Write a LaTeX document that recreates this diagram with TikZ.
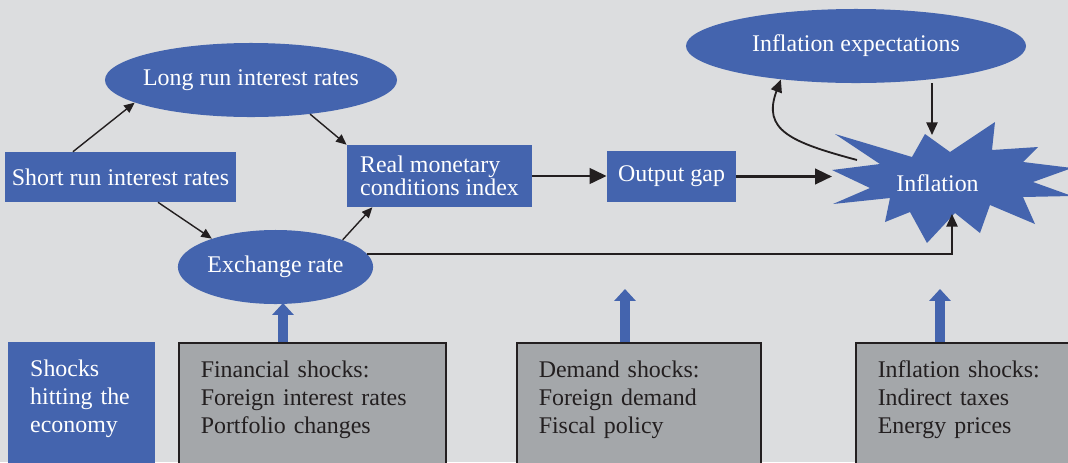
\documentclass[tikz,border=0pt]{standalone}
\usepackage{fontspec}
\setmainfont{Liberation Serif}
\usetikzlibrary{shapes.geometric,arrows.meta}
\definecolor{boxblue}{HTML}{4464AE}
\definecolor{bggrey}{HTML}{DCDDDF}
\definecolor{shockgrey}{HTML}{A4A7AA}
\definecolor{inkdark}{HTML}{231F20}
\tikzset{
  bluebox/.style={rectangle, fill=boxblue, text=white, inner sep=0pt},
  blueoval/.style={ellipse, fill=boxblue, text=white, inner sep=0pt},
  shockbox/.style={rectangle, anchor=north west, align=left, inner xsep=15.6pt, inner ysep=12.6pt, text depth=4cm, text=inkdark},
  thinarrow/.style={-{Triangle[length=7.5pt,width=6.5pt]}, line width=1pt, draw=inkdark},
  midarrow/.style={-{Triangle[length=9pt,width=8pt]}, line width=1.3pt, draw=inkdark},
  thickarrow/.style={-{Triangle[length=12pt,width=11pt]}, line width=1.8pt, draw=inkdark},
  fatarrow/.style={-{Triangle[length=8.5pt,width=15pt]}, line width=7pt, draw=boxblue}
}

\begin{document}
\begin{tikzpicture}[x=0.025cm, y=-0.025cm, every node/.style={font=\fontsize{17}{19.9}\selectfont}]
	\useasboundingbox (0,0) rectangle (1068,462);
	\fill[bggrey] (0,0) rectangle (1068,462);
	\clip (0,0) rectangle (1068,462);
	
	% 传导链上的各个节点
	\node[bluebox, minimum width=5.78cm, minimum height=1.25cm] (short) at (120.5,177) {Short run interest rates};
	\node[blueoval, inner xsep=-6pt, minimum width=7.3cm, minimum height=1.85cm] (longrun) at (251,80) {Long run interest rates};
	\node[blueoval, minimum width=4.88cm, minimum height=1.85cm] (exch) at (275.5,267) {Exchange rate};
	\node[bluebox, minimum width=4.63cm, minimum height=1.55cm, align=left, font=\fontsize{17}{16.4}\selectfont] (rmci) at (439.5,176) {Real monetary\\conditions index};
	\node[bluebox, minimum width=3.23cm, minimum height=1.28cm] (outgap) at (671.5,176.5) {Output gap};
	\node[blueoval, minimum width=8.5cm, minimum height=1.85cm] (inflexp) at (856,46) {Inflation expectations};
	
	% 通胀：不规则的爆炸形
	\fill[boxblue] (835,134) -- (912,157) -- (925,134) -- (950,152) -- (995,122) -- (992,150)
		-- (1038,147) -- (1023,162) -- (1072,168) -- (1033,182) -- (1072,196) -- (1023,197)
		-- (1035,224) -- (990,205) -- (980,233) -- (955,213) -- (927,243) -- (910,212)
		-- (885,222) -- (890,198) -- (833,204) -- (870,188) -- (832,170) -- (880,164) -- cycle;
	\node[text=white] (infl) at (937.5,183) {Inflation};
	\coordinate (infl-w) at (832,176.5);
	\coordinate (infl-s) at (952,214);
	\coordinate (infl-n) at (932,135);
	\coordinate (infl-nw) at (857,160);
	
	% 箭头
	\draw[thinarrow] (short.152) -- (longrun.191);
	\draw[thinarrow] (short.-34) -- (exch.156);
	\draw[thinarrow] (longrun.-30) -- (rmci.north west);
	\draw[thinarrow] (exch.22) -- (rmci.205);
	\draw[thickarrow] (rmci.east) -- (rmci.east -| outgap.west);
	\draw[thickarrow] (outgap.east) -- (infl-w);
	\draw[midarrow] (exch.8) -| (infl-s);
	\draw[midarrow] (inflexp.south -| infl-n) -- (infl-n);
	\draw[midarrow] (infl-nw) .. controls (790,142) and (762,130) .. (inflexp.204);
	
	% 下方的冲击
	\node[shockbox, fill=boxblue, text=white, text width=2.58cm] (shocks) at (8,342) {Shocks\\hitting the\\economy};
	\node[shockbox, fill=shockgrey, draw=inkdark, line width=1.2pt, text width=5.58cm] (fin) at (178,342) {Financial shocks:\\Foreign interest rates\\Portfolio changes};
	\node[shockbox, fill=shockgrey, draw=inkdark, line width=1.2pt, text width=5.0cm] (dmd) at (516,342) {Demand shocks:\\Foreign demand\\Fiscal policy};
	\node[shockbox, fill=shockgrey, draw=inkdark, line width=1.2pt, text width=6cm] (infsh) at (855,342) {Inflation shocks:\\Indirect taxes\\Energy prices};
	
	\coordinate (fintip) at (283,303);
	\coordinate (dmdtip) at (625,289);
	\coordinate (inftip) at (940,289);
	\draw[fatarrow] (fintip |- fin.north) -- (fintip);
	\draw[fatarrow] (dmdtip |- dmd.north) -- (dmdtip);
	\draw[fatarrow] (inftip |- infsh.north) -- (inftip);
\end{tikzpicture}
\end{document}
